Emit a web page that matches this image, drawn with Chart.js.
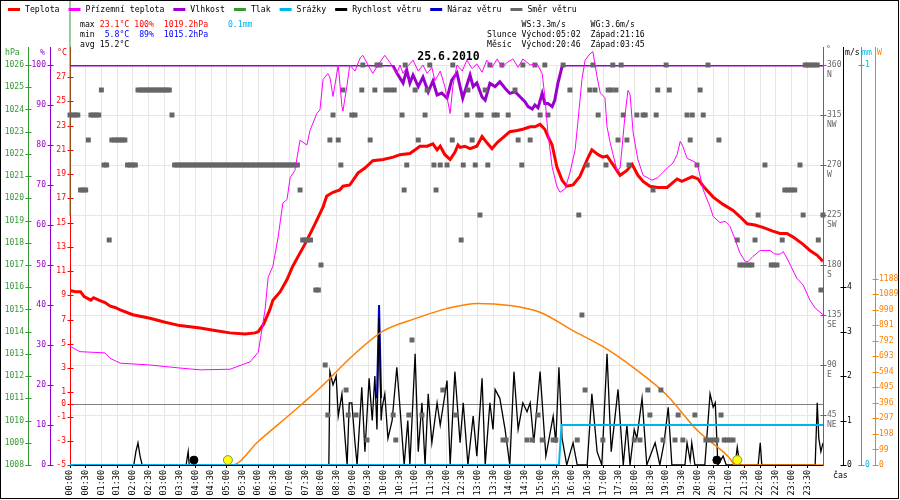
<!DOCTYPE html>
<html lang="cs">
<head>
  <meta charset="UTF-8">
  <title>Počasí 25.6.2010</title>
  <script src="https://cdn.jsdelivr.net/npm/chart.js"></script>
  <style>
    body {
      margin: 0;
      background: #fff;
    }
    #meteo {
      display: block;
    }
  </style>
</head>
<body>
  <canvas id="meteo" width="900" height="500"></canvas>

  <script>
    // --- data (time in minutes since midnight) ---
    const tempTimes = [0,10,20,27,40,45,55,67,77,86,96,120,153,180,210,249,277,306,335,354,360,370,382,388,402,415,426,440,449,463,472,484,491,503,516,522,535,551,564,579,599,618,631,650,660,669,683,694,702,708,717,727,736,742,746,755,765,778,788,797,807,817,828,841,855,866,880,889,899,908,914,922,931,941,950,962,975,989,998,1010,1019,1027,1038,1052,1065,1075,1086,1096,1109,1124,1142,1161,1170,1190,1201,1211,1230,1249,1268,1281,1295,1310,1325,1344,1358,1371,1383,1402,1415,1429,1440];
    const tempValues = [9.4,9.3,9.3,8.9,8.6,8.8,8.6,8.4,8.1,8.0,7.8,7.4,7.1,6.8,6.5,6.3,6.1,5.9,5.8,5.9,6.0,6.6,7.8,8.6,9.3,10.3,11.4,12.5,13.2,14.4,15.2,16.3,17.2,17.5,17.7,18.0,18.1,19.1,19.5,20.1,20.2,20.4,20.6,20.7,21.0,21.3,21.3,21.5,21.0,21.3,20.6,20.2,20.8,21.4,21.2,21.3,21.1,21.3,22.1,21.6,21.1,21.6,22.0,22.5,22.6,22.7,22.9,22.9,23.1,22.7,22.1,21.4,19.6,18.5,18.0,18.1,18.8,20.2,21.0,20.6,20.4,20.5,19.8,18.9,19.3,19.8,18.9,18.4,18.0,17.9,17.9,18.6,18.4,18.8,18.6,18.0,17.1,16.5,16.0,15.5,14.9,14.8,14.6,14.3,14.1,14.1,13.8,13.2,12.7,12.3,11.8];

    const feelsTimes = [0,19,67,77,96,153,210,249,306,344,360,373,379,388,398,407,415,421,430,440,453,459,472,478,484,493,497,503,513,520,522,530,535,545,555,560,570,579,589,602,612,625,631,637,644,656,666,675,683,692,698,708,717,727,732,740,750,759,769,778,788,797,807,817,826,836,847,857,866,880,893,903,908,914,922,931,937,947,956,966,971,979,985,994,1000,1008,1014,1023,1027,1033,1038,1046,1052,1056,1061,1067,1071,1077,1086,1096,1113,1124,1142,1153,1161,1167,1172,1180,1195,1201,1211,1224,1230,1243,1253,1262,1272,1281,1291,1297,1306,1320,1339,1348,1358,1364,1373,1390,1402,1415,1425,1440];
    const feelsValues = [4.8,4.35,4.25,3.8,3.4,3.25,3.0,2.85,2.9,3.5,4.3,7.8,10.5,11.4,13.8,16.6,16.9,18.7,19.3,21.8,21.4,22.6,24.0,24.3,26.8,27.3,27.0,25.4,28.0,24.6,24.2,26.4,28.0,27.5,28.6,28.8,28.0,27.3,28.0,28.8,28.2,27.3,28.0,27.3,27.8,28.4,27.5,28.0,27.3,27.8,26.7,27.5,26.2,24.0,26.2,28.0,27.5,28.4,27.7,28.1,27.4,28.4,27.8,28.5,27.8,28.2,28.5,27.8,28.5,28.0,28.1,27.3,25.4,22.4,19.6,18.0,17.5,17.8,19.1,21.0,23.2,26.8,28.4,28.9,29.1,27.0,25.7,25.3,22.9,21.6,20.7,19.3,19.5,21.3,23.7,25.9,25.6,22.4,20.2,18.9,18.5,18.7,19.5,19.9,20.6,21.7,21.3,20.3,20.0,19.6,17.7,16.3,15.5,15.0,15.1,14.7,13.6,12.5,11.8,11.8,12.2,12.7,12.7,12.4,12.4,12.6,11.9,10.4,9.85,8.6,7.95,7.4];

    const humTimes = [0,617,625,637,644,650,656,666,675,685,694,702,711,721,730,740,746,751,759,765,771,778,788,794,803,813,822,832,841,851,861,870,876,884,889,895,903,908,914,922,927,933,941,947,1440];
    const humValues = [100,100,98,95.5,98.7,95.5,97.5,94.6,97,93.3,96,92.5,93,91.7,96.2,98,94.6,91.7,95,97.5,94.6,95.5,92,91.2,95.4,94.6,95.8,94.2,92.9,93.3,92,90.8,89.6,89,90,89.3,92.9,90.4,90.4,89.6,91.2,95.4,99.6,100,100];

    const pressTimes = [0, 0];
    const pressValues = [1019.2, 1029];

    const rainTimes = [0, 935, 940, 1440];
    const rainValues = [0, 0, 0.1, 0.1];

    const windTimes = [0,122,126,130,134,138,222,226,228,495,497,503,509,513,520,526,530,534,539,545,549,558,564,572,578,583,587,591,595,597,602,608,616,625,631,639,646,650,660,666,673,679,685,692,702,708,721,727,736,746,752,761,771,778,788,794,803,809,813,822,832,841,849,857,866,874,880,887,899,910,924,929,935,941,950,962,970,989,998,1008,1017,1027,1035,1048,1058,1065,1071,1079,1084,1094,1103,1119,1128,1136,1144,1151,1176,1180,1186,1189,1195,1214,1224,1230,1234,1239,1249,1255,1272,1276,1281,1316,1320,1323,1425,1429,1432,1436,1440];
    const windValues = [0,0,0.3,0.5,0.2,0,0,0.3,0,0,2.1,1.8,2.0,1.1,1.6,0.6,0,1.4,1.4,0.5,0,1.75,0.3,1.95,1.0,2.0,0.8,3.3,1.0,1.3,1.6,0.6,1.0,2.2,1.3,0,1.0,0,2.5,0.3,1.4,0,1.6,0.5,1.4,0.9,1.9,0,2.1,0.5,1.4,0,1.1,0.2,1.95,0,1.4,0.8,1.7,1.5,0.8,0,2.1,0.8,1.4,1.2,1.4,0.5,2.1,0.2,1.1,0.5,2.2,0.6,0,0.5,0,0,1.6,0.3,0,2.5,0.3,1.7,0,0.9,0,0.8,0.6,1.5,0,0.5,0,0.5,1.3,0,0,0.5,0.1,0.5,0,0,1.6,1.3,1.4,0,0.2,0,0,0.4,0,0,0.5,0,0,1.4,0.6,0.3,0.5];

    const gustTimes = [587, 591, 595];
    const gustValues = [1.5, 3.6, 1.5];

    // wind direction samples: [minute, degrees]
    const windDir = [
      [0,315],[5,315],[10,315],[15,315],[20,247.5],[25,247.5],[30,247.5],[35,292.5],[40,315],[45,315],[50,315],[55,315],
      [60,337.5],[65,270],[70,270],[75,202.5],[80,292.5],[85,292.5],[90,292.5],[95,292.5],[100,292.5],[105,292.5],
      [110,270],[115,270],[120,270],[125,270],[130,337.5],[135,337.5],[140,337.5],[145,337.5],[150,337.5],[155,337.5],
      [160,337.5],[165,337.5],[170,337.5],[175,337.5],[180,337.5],[185,337.5],[190,337.5],[195,315],
      [200,270],[205,270],[210,270],[215,270],[220,270],[225,270],[230,270],[235,270],[240,270],[245,270],[250,270],[255,270],
      [260,270],[265,270],[270,270],[275,270],[280,270],[285,270],[290,270],[295,270],[300,270],[305,270],[310,270],[315,270],
      [320,270],[325,270],[330,270],[335,270],[340,270],[345,270],[350,270],[355,270],[360,270],[365,270],[370,270],[375,270],
      [380,270],[385,270],[390,270],[395,270],[400,270],[405,270],[410,270],[415,270],[420,270],[425,270],[430,270],[435,270],
      [440,247.5],[445,202.5],[450,202.5],[455,202.5],[460,202.5],[470,157.5],[475,157.5],[480,180],
      [488,90],[493,45],[497,292.5],[503,315],[513,292.5],[518,270],[522,337.5],[528,67.5],[532,45],[539,315],[545,315],[547,45],
      [558,337.5],[560,360],[568,22.5],[574,292.5],[583,337.5],[587,360],[593,360],[604,337.5],[612,337.5],[618,45],[620,337.5],
      [623,22.5],[635,315],[639,247.5],[641,360],[644,270],[648,45],[654,112.5],[660,337.5],[666,292.5],[673,45],[679,315],
      [683,337.5],[688,360],[696,270],[700,247.5],[708,270],[713,67.5],[721,270],[731,292.5],[732,360],[738,45],[748,202.5],
      [752,270],[759,315],[761,337.5],[769,292.5],[775,270],[780,315],[784,225],[786,315],[794,337.5],[799,270],[803,360],
      [811,315],[817,315],[826,360],[828,22.5],[834,22.5],[838,315],[851,337.5],[857,292.5],[864,270],[866,360],[874,22.5],
      [880,292.5],[884,22.5],[889,360],[895,45],[899,315],[903,22.5],[908,360],[914,315],[924,22.5],[929,22.5],[943,360],
      [956,337.5],[970,22.5],[973,225],[979,135],[985,67.5],[989,270],[994,337.5],[1000,360],[1004,337.5],[1010,315],
      [1019,22.5],[1025,270],[1029,337.5],[1035,337.5],[1038,360],[1044,337.5],[1048,292.5],[1054,360],[1058,315],
      [1065,292.5],[1069,270],[1079,22.5],[1084,315],[1090,22.5],[1096,315],[1100,315],[1105,67.5],[1109,45],[1115,247.5],
      [1121,315],[1124,337.5],[1130,67.5],[1134,22.5],[1140,360],[1146,337.5],[1157,22.5],[1163,45],[1172,22.5],[1180,315],
      [1186,292.5],[1190,315],[1195,45],[1199,270],[1205,337.5],[1211,315],[1216,22.5],[1220,360],[1224,22.5],[1232,22.5],
      [1237,22.5],[1241,292.5],[1245,45],[1251,22.5],[1256,22.5],[1262,22.5],[1268,22.5],[1276,202.5],[1281,180],[1287,180],
      [1293,180],[1299,180],[1304,180],[1310,202.5],[1316,225],[1329,270],[1341,180],[1346,180],[1352,180],[1362,202.5],
      [1367,247.5],[1373,247.5],[1379,247.5],[1386,247.5],[1396,270],[1402,225],[1406,360],[1411,360],[1417,360],[1423,360],
      [1429,360],[1431,202.5],[1436,157.5],[1440,225]
    ];

    const sunTimes = [0,310,360,420,440,480,540,600,660,720,780,840,900,960,1020,1080,1140,1200,1260,1272,1440];
    const sunValues = [0,0,150,320,378,497,695,856,933,997,1030,1017,972,860,753,615,450,220,50,0,0];

    const sunEvents = [302, 1276];   // sunrise, sunset
    const moonEvents = [237, 1237];  // moon marks as drawn

    // tick labels
    const timeLabels = ['00:00','00:30','01:00','01:30','02:00','02:30','03:00','03:30','04:00','04:30','05:00','05:30',
      '06:00','06:30','07:00','07:30','08:00','08:30','09:00','09:30','10:00','10:30','11:00','11:30',
      '12:00','12:30','13:00','13:30','14:00','14:30','15:00','15:30','16:00','16:30','17:00','17:30',
      '18:00','18:30','19:00','19:30','20:00','20:30','21:00','21:30','22:00','22:30','23:00','23:30'];
    const tempTicks = [-5,-3,-1,0,1,3,5,7,9,11,13,15,17,19,21,23,25,27];
    const humTicks = [0,10,20,30,40,50,60,70,80,90,100];
    const pressTicks = [1008,1009,1010,1011,1012,1013,1014,1015,1016,1017,1018,1019,1020,1021,1022,1023,1024,1025,1026];
    const dirTicks = [45,90,135,180,225,270,315,360];
    const dirNames = ['NE','E','SE','S','SW','W','NW','N'];
    const windTicks = [0,1,2,3,4];
    const rainTicks = [0,1];
    const sunTicks = [0,99,198,297,396,495,594,693,792,891,990,1089,1188];

    const legendNames = ['Teplota','Přízemní teplota','Vlhkost','Tlak','Srážky','Rychlost větru','Náraz větru','Směr větru'];
    const statsLeft = [
      [['max ', '#000'], ['23.1°C', '#ff0000'], [' 100%', '#ff0000'], ['  1019.2hPa', '#ff0000'], ['    0.1mm', '#00b4f0']],
      [['min ', '#000'], [' 5.8°C', '#0000ff'], ['  89%', '#0000ff'], ['  1015.2hPa', '#0000ff']],
      [['avg ', '#000'], ['15.2°C', '#000']]
    ];
    const statsRight = [
      '       WS:3.3m/s     WG:3.6m/s',
      'Slunce Východ:05:02  Západ:21:16',
      'Měsíc  Východ:20:46  Západ:03:45'
    ];
    const dateTitle = '25.6.2010';

    // --- styling ---
    const C = {
      temp: '#ff0000', feels: '#ff00ff', hum: '#9900cc', press: '#339933', rain: '#00b4f0',
      wind: '#000000', gust: '#0000cc', dir: '#666666', sun: '#ff8000', grid: '#e6e6e6'
    };
    const legendColors = [C.temp, C.feels, C.hum, C.press, C.rain, C.wind, C.gust, C.dir];
    const MONO = '"DejaVu Sans Mono", monospace';
    const ICON_Y = 0.11;

    const pts = (times, values) => times.map((t, i) => ({ x: t, y: values[i] }));

    function sideScale(position, weight, width, min, max, ticks, color, extra) {
      const s = {
        type: 'linear', position, weight, min, max,
        afterBuildTicks: sc => { sc.ticks = ticks.map(v => ({ value: v })); },
        afterFit: sc => { sc.width = width; },
        grid: { display: false, drawTicks: false },
        border: { display: false },
        ticks: { color, padding: 4, font: { family: MONO, size: 8 }, callback: v => String(v) }
      };
      return Object.assign(s, extra || {});
    }

    const axisLines = [
      { id: 'yPress', color: C.press }, { id: 'yHum', color: C.hum }, { id: 'yTemp', color: C.temp },
      { id: 'yDir', color: C.dir }, { id: 'yWind', color: C.wind }, { id: 'yRain', color: C.rain }, { id: 'ySun', color: C.sun }
    ];

    const meteoPlugin = {
      id: 'meteoDecor',
      beforeDatasetsDraw(chart) {
        const ctx = chart.ctx;
        const area = chart.chartArea;
        ctx.save();
        ctx.lineWidth = 1;
        axisLines.forEach(a => {
          const s = chart.scales[a.id];
          const x = Math.round(s.position === 'left' ? s.right : s.left) + 0.5;
          ctx.strokeStyle = a.color;
          ctx.beginPath();
          ctx.moveTo(x, 47);
          ctx.lineTo(x, area.bottom + 1);
          s.ticks.forEach(t => {
            const y = Math.round(s.getPixelForValue(t.value)) + 0.5;
            ctx.moveTo(x - 3, y);
            ctx.lineTo(x + 3, y);
          });
          ctx.stroke();
        });
        ctx.restore();
      },
      afterDraw(chart) {
        const ctx = chart.ctx;
        ctx.save();
        ctx.font = '8.2px ' + MONO;
        ctx.textBaseline = 'middle';
        ctx.textAlign = 'left';

        // legend
        let x = 8;
        legendNames.forEach((name, i) => {
          ctx.fillStyle = legendColors[i];
          ctx.fillRect(x, 8, 12, 3);
          ctx.fillStyle = '#000';
          ctx.fillText(name, x + 17, 9.5);
          x += 17 + ctx.measureText(name).width + 9;
        });

        // statistics blocks
        statsLeft.forEach((row, r) => {
          let cx = 80;
          row.forEach(([txt, col]) => {
            ctx.fillStyle = col;
            ctx.fillText(txt, cx, 24.5 + r * 10);
            cx += ctx.measureText(txt).width;
          });
        });
        ctx.fillStyle = '#000';
        statsRight.forEach((line, r) => ctx.fillText(line, 487, 24.5 + r * 10));

        // axis titles
        const titles = [['hPa', 5, 53, C.press], ['%', 40, 53, C.hum], ['°C', 57, 53, C.temp],
          ['°', 826, 50, C.dir], ['m/s', 845, 53, C.wind], ['mm', 862, 53, C.rain], ['W', 877, 53, C.sun],
          ['čas', 833, 476, '#000']];
        titles.forEach(([t, tx, ty, col]) => {
          ctx.fillStyle = col;
          ctx.fillText(t, tx, ty);
        });

        // date
        ctx.font = 'bold 11.5px ' + MONO;
        ctx.textAlign = 'center';
        ctx.fillStyle = '#000';
        ctx.fillText(dateTitle, 448.5, 57);

        // frame
        ctx.strokeStyle = '#000';
        ctx.lineWidth = 1;
        ctx.strokeRect(0.5, 0.5, 898, 498);
        ctx.restore();
      }
    };

    const lineDefaults = { pointRadius: 0, tension: 0, fill: false };

    new Chart(document.getElementById('meteo').getContext('2d'), {
      type: 'line',
      data: {
        datasets: [
          Object.assign({}, lineDefaults, {
            label: 'Slunce', data: pts(sunEvents, sunEvents.map(() => ICON_Y)), yAxisID: 'yWind',
            showLine: false, pointRadius: 4.5, pointBackgroundColor: '#ffff00', pointBorderColor: '#8a8a55',
            pointBorderWidth: 1, clip: false
          }),
          Object.assign({}, lineDefaults, {
            label: 'Měsíc', data: pts(moonEvents, moonEvents.map(() => ICON_Y)), yAxisID: 'yWind',
            showLine: false, pointRadius: 4, pointBackgroundColor: '#000', pointBorderColor: '#000',
            pointBorderWidth: 1, clip: false
          }),
          Object.assign({}, lineDefaults, {
            label: 'Přízemní teplota', data: pts(feelsTimes, feelsValues), yAxisID: 'yTemp',
            borderColor: C.feels, borderWidth: 1, clip: false
          }),
          Object.assign({}, lineDefaults, {
            label: 'Směr větru', data: windDir.map(([t, d]) => ({ x: t, y: d })), yAxisID: 'yDir',
            showLine: false, pointStyle: 'rect', pointRadius: 3.5, pointBackgroundColor: C.dir,
            pointBorderWidth: 0, borderColor: C.dir, clip: false
          }),
          Object.assign({}, lineDefaults, {
            label: 'Vlhkost', data: pts(humTimes, humValues), yAxisID: 'yHum',
            borderColor: C.hum, borderWidth: 3
          }),
          Object.assign({}, lineDefaults, {
            label: 'Teplota', data: pts(tempTimes, tempValues), yAxisID: 'yTemp',
            borderColor: C.temp, borderWidth: 3
          }),
          Object.assign({}, lineDefaults, {
            label: 'Tlak', data: pts(pressTimes, pressValues), yAxisID: 'yPress',
            borderColor: C.press, borderWidth: 1, clip: false
          }),
          Object.assign({}, lineDefaults, {
            label: 'Srážky', data: pts(rainTimes, rainValues), yAxisID: 'yRain',
            borderColor: C.rain, borderWidth: 2
          }),
          Object.assign({}, lineDefaults, {
            label: 'Sluneční záření', data: pts(sunTimes, sunValues), yAxisID: 'ySun',
            borderColor: C.sun, borderWidth: 1.5, cubicInterpolationMode: 'monotone'
          }),
          Object.assign({}, lineDefaults, {
            label: 'Rychlost větru', data: pts(windTimes, windValues), yAxisID: 'yWind',
            borderColor: C.wind, borderWidth: 1.3
          }),
          Object.assign({}, lineDefaults, {
            label: 'Náraz větru', data: pts(gustTimes, gustValues), yAxisID: 'yWind',
            borderColor: C.gust, borderWidth: 2
          })
        ]
      },
      options: {
        responsive: false,
        animation: false,
        events: [],
        layout: { padding: { top: 65, left: 0, right: 0, bottom: 0 } },
        plugins: { legend: { display: false }, tooltip: { enabled: false } },
        scales: {
          x: {
            type: 'linear', min: 0, max: 1440,
            afterBuildTicks: s => { s.ticks = timeLabels.map((_, i) => ({ value: i * 30 })); },
            afterFit: s => { s.height = 35; },
            grid: { color: C.grid, tickColor: '#000', tickLength: 3 },
            border: { display: true, color: '#000', width: 1 },
            ticks: {
              autoSkip: false, minRotation: 90, maxRotation: 90, padding: 2, color: '#000',
              font: { family: MONO, size: 8.5 },
              callback: (v, i) => timeLabels[i]
            }
          },
          yPress: sideScale('left', 2, 28, 1008, 1026, pressTicks, C.press),
          yHum: sideScale('left', 1, 22, 0, 100, humTicks, C.hum),
          yTemp: sideScale('left', 0, 20, -5, 28, tempTicks, C.temp, {
            grid: {
              display: true, drawTicks: false, lineWidth: 1,
              color: c => (c.tick && c.tick.value === 0) ? '#7f7f7f' : 'rgba(0,0,0,0)'
            }
          }),
          yDir: sideScale('right', 0, 20, 0, 360, dirTicks, C.dir, {
            grid: { display: true, drawTicks: false, color: C.grid, lineWidth: 1 },
            ticks: {
              color: C.dir, padding: 4, labelOffset: 5, font: { family: MONO, size: 8 },
              callback: (v, i) => [String(v), dirNames[i]]
            }
          }),
          yWind: sideScale('right', 1, 18, 0, 9, windTicks, C.wind),
          yRain: sideScale('right', 2, 14, 0, 1, rainTicks, C.rain),
          ySun: sideScale('right', 3, 25, 0, 2550, sunTicks, C.sun)
        }
      },
      plugins: [meteoPlugin]
    });
  </script>
</body>
</html>
